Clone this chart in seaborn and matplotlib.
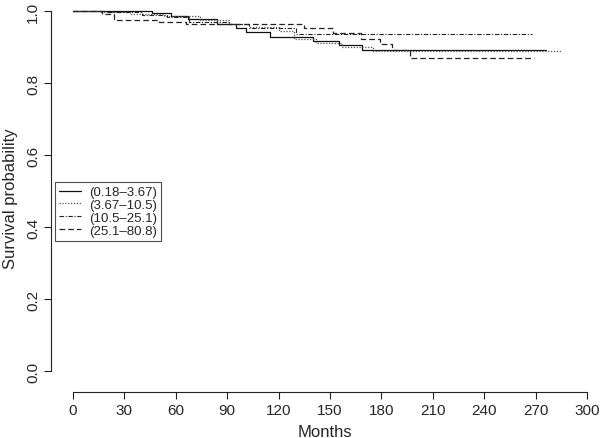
import matplotlib
matplotlib.use("Agg")
import matplotlib.pyplot as plt
import seaborn as sns
import pandas as pd
from matplotlib.lines import Line2D

# Kaplan-Meier step curves (months, survival probability)
labels = ["(0.18\u20133.67)", "(3.67\u201310.5)", "(10.5\u201325.1)", "(25.1\u201380.8)"]

g1_t = [0, 46, 57, 67, 84, 95, 101, 115, 140, 155, 169, 276]
g1_s = [1.0, 0.994, 0.986, 0.978, 0.964, 0.953, 0.942, 0.928, 0.917, 0.906, 0.892, 0.892]

g2_t = [0, 16, 33, 53, 74, 91, 103, 120, 129, 142, 157, 175, 285]
g2_s = [1.0, 0.997, 0.993, 0.986, 0.975, 0.965, 0.956, 0.944, 0.922, 0.911, 0.900, 0.889, 0.889]

g3_t = [0, 20, 40, 55, 68, 91, 103, 130, 268]
g3_s = [1.0, 0.996, 0.990, 0.983, 0.969, 0.964, 0.953, 0.937, 0.937]

g4_t = [0, 17, 24, 50, 66, 135, 152, 168, 179, 186, 197, 269]
g4_s = [1.0, 0.992, 0.975, 0.969, 0.964, 0.953, 0.940, 0.922, 0.908, 0.892, 0.869, 0.869]

x_ticks = [0, 30, 60, 90, 120, 150, 180, 210, 240, 270, 300]
y_ticks = [0.0, 0.2, 0.4, 0.6, 0.8, 1.0]

sns.set_style("ticks")
plt.rcParams["font.family"] = ["Liberation Sans", "DejaVu Sans"]

fig = plt.figure(figsize=(6.0, 4.39), dpi=100)
ax = fig.add_axes([51 / 600, (439 - 393) / 439, (598 - 51) / 600, (393 - 5) / 439])

styles = [
    dict(color="#111111", linestyle="-", linewidth=0.9),
    dict(color="#555555", linestyle=(0, (1, 1.3)), linewidth=0.9),
    dict(color="#222222", linestyle=(0, (4, 1.5, 1, 1.5)), linewidth=0.8),
    dict(color="#222222", linestyle=(0, (4.5, 2.5)), linewidth=0.9),
]
series = [(g1_t, g1_s), (g2_t, g2_s), (g3_t, g3_s), (g4_t, g4_s)]

handles = []
for (t, s), lab, st in zip(series, labels, styles):
    df = pd.DataFrame({"Months": t, "surv": s})
    sns.lineplot(data=df, x="Months", y="surv", ax=ax, estimator=None, sort=False,
                 drawstyle="steps-post", color=st["color"], linewidth=st["linewidth"],
                 linestyle=st["linestyle"], legend=False)
    handles.append(Line2D([0], [0], **st))

ax.set_xlim(-22 / 1.713, (598 - 73) / 1.713)
ax.set_ylim(-21 / 360, 1 + 7 / 360)
ax.set_xticks(x_ticks)
ax.set_yticks(y_ticks)
ax.set_xticklabels([str(v) for v in x_ticks], fontsize=11)
ax.set_yticklabels([f"{v:.1f}" for v in y_ticks], fontsize=11, rotation=90, va="center")
ax.spines["top"].set_visible(False)
ax.spines["right"].set_visible(False)
ax.spines["bottom"].set_bounds(0, 300)
ax.spines["left"].set_bounds(0, 1)
for sp in ("bottom", "left"):
    ax.spines[sp].set_linewidth(0.8)
    ax.spines[sp].set_color("#222222")
ax.tick_params(direction="out", length=5, width=0.8, color="#222222", pad=3)
ax.set_xlabel("Months", fontsize=12, labelpad=5)
ax.set_ylabel("Survival probability", fontsize=12, labelpad=6)

leg = ax.legend(handles, labels, loc="upper left",
                bbox_to_anchor=((55 - 51) / 547, (393 - 183) / 388),
                fontsize=9.5, frameon=True, fancybox=False, handlelength=1.7,
                handletextpad=0.55, labelspacing=0.05, borderpad=0.3,
                borderaxespad=0)
leg.get_frame().set_edgecolor("#222222")
leg.get_frame().set_linewidth(0.8)

fig.savefig("out.png", dpi=100)
